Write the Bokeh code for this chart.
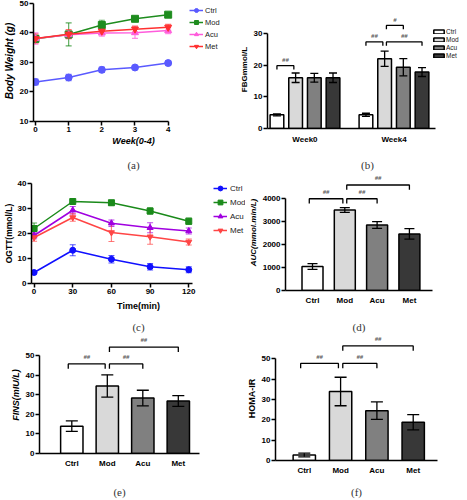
from bokeh.plotting import figure
from bokeh.layouts import column, row
from bokeh.models import (ColumnDataSource, Whisker, TeeHead, Range1d, FixedTicker,
                          Legend, LegendItem, LinearAxis)
from bokeh.embed import file_html
from bokeh.resources import INLINE
from bokeh.core.properties import value

SANS = "Liberation Sans"
SERIF = "Liberation Serif"

# ---------------- data ----------------
groups = ["Ctrl", "Mod", "Acu", "Met"]

# (a) body weight
weeks = [0, 1, 2, 3, 4]
bw_ctrl = [23.4, 24.9, 27.5, 28.3, 29.8]
bw_ctrl_sd = [1.0, 1.1, 0.9, 0.6, 0.8]
bw_mod = [38.0, 39.5, 42.7, 44.8, 46.2]
bw_mod_sd = [0.5, 3.9, 1.6, 0.5, 0.5]
bw_acu = [38.1, 39.4, 40.0, 40.1, 40.8]
bw_acu_sd = [1.9, 1.2, 1.1, 1.9, 1.0]
bw_met = [38.1, 39.6, 40.6, 41.3, 41.9]
bw_met_sd = [1.5, 1.5, 1.0, 1.0, 1.0]

# (b) FBG
fbg_weeks = ["Week0", "Week4"]
fbg_ctrl = [4.3, 4.3]
fbg_ctrl_sd = [0.3, 0.5]
fbg_mod = [16.0, 22.0]
fbg_mod_sd = [1.5, 2.4]
fbg_acu = [16.0, 19.3]
fbg_acu_sd = [1.4, 2.7]
fbg_met = [16.0, 17.8]
fbg_met_sd = [1.5, 1.4]
fbg_sig = [(0, "Ctrl", "Mod", 19.8, "##"), (1, "Ctrl", "Mod", 27.3, "##"),
           (1, "Mod", "Met", 27.3, "##"), (1, "Mod", "Acu", 32.5, "#")]

# (c) OGTT
times = [0, 30, 60, 90, 120]
ogtt_ctrl = [4.4, 13.3, 9.7, 6.7, 5.5]
ogtt_ctrl_sd = [0.5, 2.2, 1.5, 1.3, 1.2]
ogtt_mod = [22.0, 32.8, 32.3, 29.0, 24.9]
ogtt_mod_sd = [2.2, 0.6, 1.0, 1.3, 1.3]
ogtt_acu = [19.2, 29.3, 24.1, 22.3, 21.0]
ogtt_acu_sd = [1.3, 1.5, 1.3, 2.0, 1.2]
ogtt_met = [18.4, 26.4, 20.4, 18.7, 16.6]
ogtt_met_sd = [1.5, 1.5, 3.6, 3.0, 1.2]

# (d) AUC
auc = [1045, 3512, 2857, 2467]
auc_sd = [125, 105, 150, 230]
auc_sig = [("Ctrl", "Mod", 4000, "##"), ("Mod", "Acu", 4000, "##"), ("Mod", "Met", 4600, "##")]

# (e) FINS
fins = [14.0, 34.6, 28.4, 26.9]
fins_sd = [2.7, 5.7, 4.0, 2.8]
fins_sig = [("Ctrl", "Mod", 45.9, "##"), ("Mod", "Acu", 45.9, "##"), ("Mod", "Met", 54.5, "##")]

# (f) HOMA-IR
homa = [2.7, 33.9, 24.5, 18.75]
homa_sd = [0.9, 7.0, 4.3, 3.75]
homa_sig = [("Ctrl", "Mod", 47.7, "##"), ("Mod", "Acu", 47.7, "##"), ("Mod", "Met", 56.3, "##")]

bar_fills = ["#ffffff", "#d9d9d9", "#808080", "#383838"]


# ---------------- helpers ----------------
def style_axis(ax):
    ax.axis_line_width = 1.5
    ax.axis_line_color = "black"
    ax.major_tick_line_width = 1.5
    ax.major_tick_line_color = "black"
    ax.major_tick_out = 4
    ax.major_tick_in = 0
    ax.minor_tick_out = 0
    ax.minor_tick_in = 0
    ax.minor_tick_line_color = None
    ax.major_label_text_font = SANS
    ax.major_label_text_font_style = "bold"
    ax.major_label_text_font_size = "8px"
    ax.major_label_text_color = "black"
    ax.major_label_standoff = 1
    ax.axis_label_text_font = SANS
    ax.axis_label_text_font_size = "0px"
    ax.axis_label_text_color = "black"
    ax.axis_label_standoff = 0


def set_label(ax, text, size, style, standoff):
    ax.axis_label = text
    ax.axis_label_text_font_size = size
    ax.axis_label_text_font_style = style
    ax.axis_label_standoff = standoff


def new_fig(w, h, xr, yr, l, r, t, b):
    p = figure(width=w, height=h, x_range=Range1d(*xr), y_range=Range1d(*yr),
               output_backend="svg", toolbar_location=None,
               min_border_left=l, min_border_right=r, min_border_top=t, min_border_bottom=b)
    if "frame_align" in p.properties():
        p.frame_align = False
    p.xgrid.visible = False
    p.ygrid.visible = False
    p.outline_line_color = None
    p.background_fill_color = "white"
    p.border_fill_color = "white"
    style_axis(p.xaxis[0])
    style_axis(p.yaxis[0])
    return p


def caption(p, text, bounds, standoff):
    ax = LinearAxis(ticker=FixedTicker(ticks=[]), axis_label=text, bounds=bounds,
                    axis_line_color=None, major_tick_line_color=None, major_tick_out=0,
                    major_tick_in=0, minor_tick_out=0, minor_tick_in=0,
                    minor_tick_line_color=None, major_label_standoff=0,
                    axis_label_standoff=standoff, axis_label_text_font=SERIF,
                    axis_label_text_font_size="11px", axis_label_text_font_style="normal",
                    axis_label_text_color="#333333")
    p.add_layout(ax, "below")


def line_series(p, xs, mean, sd, color, marker, size):
    src = ColumnDataSource(dict(x=xs, y=mean,
                                upper=[m + e for m, e in zip(mean, sd)],
                                lower=[m - e for m, e in zip(mean, sd)]))
    p.add_layout(Whisker(base="x", upper="upper", lower="lower", source=src,
                         line_color=color, line_width=1.2, line_alpha=0.7,
                         upper_head=TeeHead(size=6, line_color=color, line_width=1.2, line_alpha=0.7),
                         lower_head=TeeHead(size=6, line_color=color, line_width=1.2, line_alpha=0.7)))
    r1 = p.line("x", "y", source=src, line_color=color, line_width=1.5)
    r2 = p.scatter("x", "y", source=src, marker=marker, size=size,
                   fill_color=color, line_color=color)
    return [r1, r2]


def style_legend(lg, fs, gw, gh, lh, sp, standoff):
    lg.label_text_font = SANS
    lg.label_text_font_size = fs
    lg.label_text_color = "#222222"
    lg.glyph_width = gw
    lg.glyph_height = gh
    lg.label_height = lh
    lg.label_width = 10
    lg.spacing = sp
    lg.padding = 0
    lg.margin = 0
    lg.label_standoff = standoff
    lg.border_line_color = None
    lg.background_fill_alpha = 0


def sig_brackets(p, xa, xb, levels, labels, drop, tgap):
    xs, ys, tx, ty = [], [], [], []
    for a, b, lev in zip(xa, xb, levels):
        xs.append([a, a, b, b])
        ys.append([lev - drop, lev, lev, lev - drop])
        tx.append((a + b) / 2)
        ty.append(lev + tgap)
    p.multi_line(xs=xs, ys=ys, line_color="black", line_width=1.3)
    p.text(x=tx, y=ty, text=labels, text_font=value(SANS), text_font_size=value("6px"),
           text_font_style="bold italic", text_align="center", text_baseline="middle",
           text_color="#555555")


def cat_xaxis(ax, ticks, labels, standoff):
    ax.ticker = FixedTicker(ticks=ticks)
    ax.major_label_overrides = {t: s for t, s in zip(ticks, labels)}
    ax.major_tick_line_color = None
    ax.major_tick_out = 0
    ax.major_label_standoff = standoff


def bar_panel(p, means, sds, width, cap, sig, ppu):
    xs = list(range(len(groups)))
    src = ColumnDataSource(dict(x=xs, top=means, fill=bar_fills,
                                upper=[m + e for m, e in zip(means, sds)],
                                lower=[m - e for m, e in zip(means, sds)]))
    p.vbar(x="x", top="top", width=width, bottom=0, source=src, fill_color="fill",
           line_color="black", line_width=1.5)
    p.add_layout(Whisker(base="x", upper="upper", lower="lower", source=src,
                         line_color="black", line_width=1.3, level="annotation",
                         upper_head=TeeHead(size=cap, line_color="black", line_width=1.3),
                         lower_head=TeeHead(size=cap, line_color="black", line_width=1.3)))
    cat_xaxis(p.xaxis[0], xs, groups, 5)
    xa, xb, lev, lab = [], [], [], []
    for g1, g2, level, text in sig:
        i, j = groups.index(g1), groups.index(g2)
        xa.append(i + (0.06 if g1 == "Mod" else -0.1))
        xb.append(j - (0.06 if g2 == "Mod" else 0.0))
        lev.append(level)
        lab.append(text)
    sig_brackets(p, xa, xb, lev, lab, 5 / ppu, 7 / ppu)


a_marks = ["circle", "square", "triangle", "inverted_triangle"]

# ---------------- (a) ----------------
pa = new_fig(233, 173, (-0.06, 5.97), (10, 51), 31, 0, 0, 50)
pa.xaxis.ticker = FixedTicker(ticks=weeks)
pa.xaxis.bounds = (-0.06, 4.0)
pa.yaxis.bounds = (10, 50)
pa.yaxis.ticker = FixedTicker(ticks=[10, 20, 30, 40, 50])
set_label(pa.xaxis[0], "Week(0-4)", "9px", "bold italic", 1)
set_label(pa.yaxis[0], "Body Weight (g)", "10px", "bold italic", 2)
a_cols = ["#5a5aff", "#1e8c1e", "#ff5cdc", "#ff3030"]
items = []
for g, m, s, c, mk in zip(groups, [bw_ctrl, bw_mod, bw_acu, bw_met],
                          [bw_ctrl_sd, bw_mod_sd, bw_acu_sd, bw_met_sd], a_cols, a_marks):
    items.append(LegendItem(label=g, renderers=line_series(pa, weeks, m, s, c, mk, 7)))
lga = Legend(items=items, location=(156, 70))
style_legend(lga, "7.5px", 14, 10, 10, 2, 2)
pa.add_layout(lga)
caption(pa, "(a)", (0, 4), 10)

# ---------------- (b) ----------------
ppu_b = 100 / 30
pb = new_fig(234, 173, (-0.421, 1.826), (0, 124 / ppu_b), 34, 0, 10, 39)
pb.xaxis.bounds = (-0.421, 1.466)
pb.yaxis.bounds = (0, 30)
pb.yaxis.ticker = FixedTicker(ticks=[0, 10, 20, 30])
set_label(pb.yaxis[0], "FBGmmol/L", "8px", "bold", 2)
cat_xaxis(pb.xaxis[0], [0, 1], fbg_weeks, 6)
offs = [-0.315, -0.105, 0.105, 0.315]
items = []
for k, (g, m, s) in enumerate(zip(groups, [fbg_ctrl, fbg_mod, fbg_acu, fbg_met],
                                  [fbg_ctrl_sd, fbg_mod_sd, fbg_acu_sd, fbg_met_sd])):
    xs = [w + offs[k] for w in range(len(fbg_weeks))]
    src = ColumnDataSource(dict(x=xs, top=m, upper=[a + b for a, b in zip(m, s)],
                                lower=[a - b for a, b in zip(m, s)]))
    r = pb.vbar(x="x", top="top", bottom=0, width=0.154, source=src,
                fill_color=bar_fills[k], line_color="black", line_width=1.5)
    pb.add_layout(Whisker(base="x", upper="upper", lower="lower", source=src,
                          line_color="black", line_width=1.3, level="annotation",
                          upper_head=TeeHead(size=8, line_color="black", line_width=1.3),
                          lower_head=TeeHead(size=8, line_color="black", line_width=1.3)))
    items.append(LegendItem(label=g, renderers=[r]))
lgb = Legend(items=items, location=(165, 69))
style_legend(lgb, "6.5px", 13, 5, 7, 1, 1)
pb.add_layout(lgb)
xa, xb, lev, lab = [], [], [], []
for w, g1, g2, level, text in fbg_sig:
    xa.append(w + offs[groups.index(g1)] + (0.02 if g1 == "Mod" else 0))
    xb.append(w + offs[groups.index(g2)] - (0.02 if g2 == "Mod" else 0))
    lev.append(level)
    lab.append(text)
sig_brackets(pb, xa, xb, lev, lab, 4 / ppu_b, 6 / ppu_b)
caption(pb, "(b)", (-0.421, 1.443), 12)

# ---------------- (c) ----------------
pc = new_fig(245, 162, (-2, 164), (0, 40), 25, 0, 10, 47)
pc.xaxis.bounds = (-2, 122.5)
pc.xaxis.ticker = FixedTicker(ticks=times)
pc.yaxis.ticker = FixedTicker(ticks=[0, 10, 20, 30, 40])
set_label(pc.xaxis[0], "Time(min)", "9px", "bold", 4)
set_label(pc.yaxis[0], "OGTT(mmol/L)", "8.5px", "bold", 1)
c_cols = ["#1010ff", "#1a8a1a", "#a000e0", "#ff4545"]
items = []
for g, m, s, c, mk in zip(groups, [ogtt_ctrl, ogtt_mod, ogtt_acu, ogtt_met],
                          [ogtt_ctrl_sd, ogtt_mod_sd, ogtt_acu_sd, ogtt_met_sd], c_cols, a_marks):
    items.append(LegendItem(label=g, renderers=line_series(pc, times, m, s, c, mk, 6)))
lgc = Legend(items=items, location=(182, 47))
style_legend(lgc, "8px", 14, 12, 12, 2, 3)
pc.add_layout(lgc)
caption(pc, "(c)", (-2, 112), 7)

# ---------------- (d) ----------------
ppu_d = 95.7 / 4000
pd_ = new_fig(222, 162, (-0.836, 3.715), (0, 121 / ppu_d), 40, 35, 1, 40)
pd_.yaxis.bounds = (0, 4000)
pd_.yaxis.ticker = FixedTicker(ticks=[0, 1000, 2000, 3000, 4000])
set_label(pd_.yaxis[0], "AUC(mmol.min/L)", "8px", "bold italic", 2)
bar_panel(pd_, auc, auc_sd, 0.65, 10, auc_sig, ppu_d)
caption(pd_, "(d)", (-0.836, 3.715), 13)

# ---------------- (e) ----------------
ppu_e = 102.6 / 50
pe = new_fig(233, 165, (-0.91, 3.597), (0, 123 / ppu_e), 39, 34, 1, 41)
pe.yaxis.bounds = (0, 50)
pe.yaxis.ticker = FixedTicker(ticks=[0, 10, 20, 30, 40, 50])
set_label(pe.yaxis[0], "FINS(mIU/L)", "9px", "bold italic", 2)
bar_panel(pe, fins, fins_sd, 0.63, 12, fins_sig, ppu_e)
caption(pe, "(e)", (-0.91, 2.696), 15)

# ---------------- (f) ----------------
ppu_f = 106.7 / 50
pf = new_fig(234, 165, (-0.793, 3.669), (0, 130 / ppu_f), 42, 30, 1, 34)
pf.yaxis.bounds = (0, 50)
pf.yaxis.ticker = FixedTicker(ticks=[0, 10, 20, 30, 40, 50])
set_label(pf.yaxis[0], "HOMA-IR", "9px", "bold", 2)
bar_panel(pf, homa, homa_sd, 0.615, 12, homa_sig, ppu_f)
caption(pf, "(f)", (-0.793, 3.063), 8)

layout = column(row(pa, pb), row(pc, pd_), row(pe, pf))
open("out.html", "w").write(file_html(layout, INLINE))
